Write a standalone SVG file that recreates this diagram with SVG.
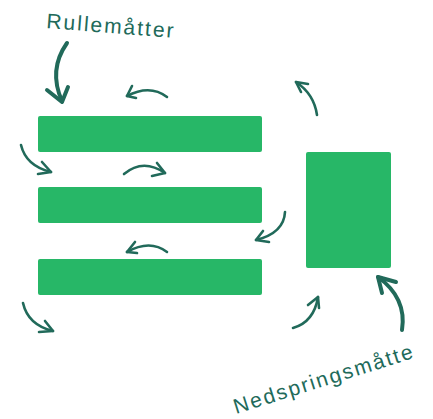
<svg xmlns="http://www.w3.org/2000/svg" width="433" height="419" viewBox="0 0 433 419">
<style>
.mat{fill:#27b767}
.a{fill:none;stroke:#216a5a;stroke-width:2.6;stroke-linecap:round;stroke-linejoin:round}
.b{stroke-width:4}
.lbl{font-family:"Liberation Sans",Arial,sans-serif;font-size:21px;fill:#216a5a;letter-spacing:2px}
</style>
<rect width="433" height="419" fill="#fff"/>
<g id="mat1"><rect class="mat" x="38" y="116" width="224" height="36" rx="2"/></g>
<g id="mat2"><rect class="mat" x="38" y="187" width="224" height="36" rx="2"/></g>
<g id="mat3"><rect class="mat" x="38" y="259" width="224" height="36" rx="2"/></g>
<g id="landing"><rect class="mat" x="306" y="152" width="85" height="116" rx="2"/></g>
<g id="label-rulle"><text class="lbl" x="46" y="28" transform="rotate(4.4 46 28)">Rullemåtter</text></g>
<g id="label-ned"><text class="lbl" x="236" y="414" transform="rotate(-17.5 236 414)" letter-spacing="2">Nedspringsmåtte</text></g>
<g id="connectors">
<path class="a b" d="M67,43 Q48,70 62,101"/>
<path class="a b" d="M47,90 L62,102 L68,87"/>
<path class="a" d="M167,97 Q150,84 127,96"/>
<path class="a" d="M132,86 L127,96 L136,98"/>
<path class="a" d="M21,145 Q26,166 51,172"/>
<path class="a" d="M42,162 L51,172 L38,174"/>
<path class="a" d="M124,174 Q143,158 165,173"/>
<path class="a" d="M157,163 L165,173 L152,176"/>
<path class="a" d="M285,212 Q284,233 256,240"/>
<path class="a" d="M263,231 L256,240 L269,242"/>
<path class="a" d="M167,252 Q150,239 127,252"/>
<path class="a" d="M135,242 L127,252 L137,253"/>
<path class="a" d="M23,303 Q28,325 53,331"/>
<path class="a" d="M45,321 L53,331 L39,332"/>
<path class="a" d="M293,328 Q314,322 318,297"/>
<path class="a" d="M308,305 L318,297 L319,308"/>
<path class="a" d="M317,115 Q314,94 296,82"/>
<path class="a" d="M301,92 L296,82 L308,84"/>
<path class="a b" d="M402,330 Q407,298 378,277"/>
<path class="a b" d="M382,293 L378,277 L396,282"/>
</g>
</svg>
